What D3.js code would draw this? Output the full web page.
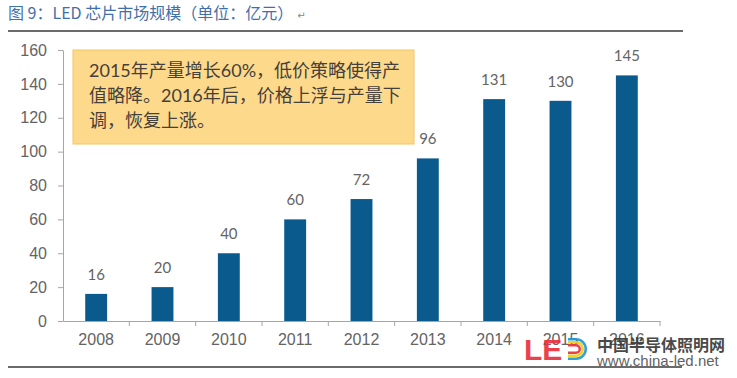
<!DOCTYPE html>
<html>
<head>
<meta charset="utf-8">
<script src="https://cdn.jsdelivr.net/npm/d3@7"></script>
<style>
  body { margin: 0; background: #fff; }
  svg { display: block; }
</style>
</head>
<body>
<div id="chart"></div>
<script>
//chart data
const years = ["2008", "2009", "2010", "2011", "2012", "2013", "2014", "2015", "2016"];
const values = [16, 20, 40, 60, 72, 96, 131, 130, 145];
const yTicks = [0, 20, 40, 60, 80, 100, 120, 140, 160];
const titleText = "图 9：LED 芯片市场规模（单位：亿元）";
const noteLines = ["2015年产量增长60%，低价策略使得产", "值略降。2016年后，价格上浮与产量下", "调，恢复上涨。"];

//setting visual dimensions
const width = 737;
const height = 378;

const svg = d3.select("#chart")
  .append("svg")
  .attr("width", width)
  .attr("height", height);

//scales
const x = d3.scaleBand()
  .domain(years)
  .range([63, 660])
  .paddingInner(0.67)
  .paddingOuter(0.335);

const y = d3.scaleLinear()
  .domain([0, 160])
  .range([321, 50]);

//title and rules
const title = svg.append("text")
  .attr("x", 8)
  .attr("y", 19)
  .attr("font-family", "'Noto Sans CJK SC', sans-serif")
  .attr("font-size", 16)
  .attr("fill", "#3f70aa")
  .text(titleText);

//paragraph mark just after the title
const titleEnd = 8 + title.node().getComputedTextLength();
svg.append("text")
  .attr("x", titleEnd + 4)
  .attr("y", 19)
  .attr("font-family", "'DejaVu Sans', sans-serif")
  .attr("font-size", 10)
  .attr("fill", "#888")
  .text("↵");

svg.append("line")
  .attr("x1", 8).attr("x2", 683)
  .attr("y1", 31).attr("y2", 31)
  .attr("stroke", "#3a3a3a")
  .attr("stroke-width", 1.5);

svg.append("line")
  .attr("x1", 8).attr("x2", 682)
  .attr("y1", 367).attr("y2", 367)
  .attr("stroke", "#3a3a3a")
  .attr("stroke-width", 1.5);

//y axis
const yAxis = svg.append("g")
  .attr("transform", "translate(63,0)")
  .call(d3.axisLeft(y).tickValues(yTicks).tickSize(5).tickSizeOuter(0).tickPadding(11));

yAxis.select(".domain").attr("stroke", "#a6a6a6");
yAxis.selectAll(".tick line").attr("stroke", "#a6a6a6");
yAxis.selectAll("text")
  .attr("font-family", "'Liberation Sans', Arial, sans-serif")
  .attr("font-size", 16)
  .attr("fill", "#646464");

//x axis: labels centred, ticks between categories
const xAxis = svg.append("g")
  .attr("transform", "translate(0,321)")
  .call(d3.axisBottom(x).tickSize(0).tickPadding(13));

xAxis.select(".domain").attr("stroke", "#a6a6a6");
xAxis.selectAll("text")
  .attr("font-family", "'Liberation Sans', Arial, sans-serif")
  .attr("font-size", 16)
  .attr("fill", "#646464");

const step = x.step();
svg.append("g")
  .selectAll("line")
  .data(d3.range(1, years.length + 1))
  .enter()
  .append("line")
  .attr("x1", i => x.range()[0] + i * step)
  .attr("x2", i => x.range()[0] + i * step)
  .attr("y1", 321)
  .attr("y2", 326)
  .attr("stroke", "#a6a6a6");

//bars
svg.append("g")
  .selectAll("rect")
  .data(values)
  .enter()
  .append("rect")
  .attr("x", (d, i) => x(years[i]))
  .attr("y", d => y(d))
  .attr("width", x.bandwidth())
  .attr("height", d => y(0) - y(d))
  .attr("fill", "#0b5a8e");

//value labels
svg.append("g")
  .selectAll("text")
  .data(values)
  .enter()
  .append("text")
  .attr("x", (d, i) => x(years[i]) + x.bandwidth() / 2)
  .attr("y", d => y(d) - 14)
  .attr("text-anchor", "middle")
  .attr("font-family", "Lato, 'Open Sans', sans-serif")
  .attr("font-size", 15)
  .attr("fill", "#646464")
  .text(d => d);

//annotation box
svg.append("rect")
  .attr("x", 73)
  .attr("y", 50)
  .attr("width", 341)
  .attr("height", 94)
  .attr("fill", "#fdd98c")
  .attr("stroke", "#f6c65e")
  .attr("stroke-width", 1);

svg.append("g")
  .selectAll("text")
  .data(noteLines)
  .enter()
  .append("text")
  .attr("x", 89)
  .attr("y", (d, i) => 77 + i * 25)
  .attr("font-family", "Lato, 'Noto Sans CJK SC', sans-serif")
  .attr("font-size", 18)
  .attr("fill", "#45403a")
  .text(d => d);

//watermark logo (overlaps the last axis labels, as in the source)
const logo = svg.append("g").attr("opacity", 0.92);

logo.append("text")
  .attr("x", 524)
  .attr("y", 360)
  .attr("font-family", "'Liberation Sans', Arial, sans-serif")
  .attr("font-weight", "bold")
  .attr("font-size", 30)
  .attr("fill", "#e8333d")
  .text("LE");

const arc = d3.arc();
const rings = [
  { inner: 8.5, outer: 11, color: "#1f9ad6" },
  { inner: 5.5, outer: 8, color: "#f3cf12" },
  { inner: 2.5, outer: 5, color: "#e8333d" }
];
logo.selectAll("path.ring")
  .data(rings)
  .enter()
  .append("path")
  .attr("class", "ring")
  .attr("transform", "translate(576,349)")
  .attr("d", r => arc({ innerRadius: r.inner, outerRadius: r.outer, startAngle: 0, endAngle: Math.PI }))
  .attr("fill", r => r.color);

logo.selectAll("rect.stem")
  .data(rings)
  .enter()
  .append("rect")
  .attr("class", "stem")
  .attr("x", 568)
  .attr("y", r => 349 - r.outer)
  .attr("width", 8)
  .attr("height", r => r.outer - r.inner)
  .attr("fill", r => r.color);

logo.selectAll("rect.stem2")
  .data(rings)
  .enter()
  .append("rect")
  .attr("class", "stem2")
  .attr("x", 568)
  .attr("y", r => 349 + r.inner)
  .attr("width", 8)
  .attr("height", r => r.outer - r.inner)
  .attr("fill", r => r.color);

logo.append("text")
  .attr("x", 597)
  .attr("y", 351)
  .attr("font-family", "'Noto Sans CJK SC', sans-serif")
  .attr("font-weight", "bold")
  .attr("font-size", 16)
  .attr("fill", "#3a3a3a")
  .text("中国半导体照明网");

logo.append("text")
  .attr("x", 597)
  .attr("y", 366)
  .attr("font-family", "'Liberation Sans', Arial, sans-serif")
  .attr("font-size", 15)
  .attr("fill", "#555")
  .text("www.china-led.net");
</script>
</body>
</html>
